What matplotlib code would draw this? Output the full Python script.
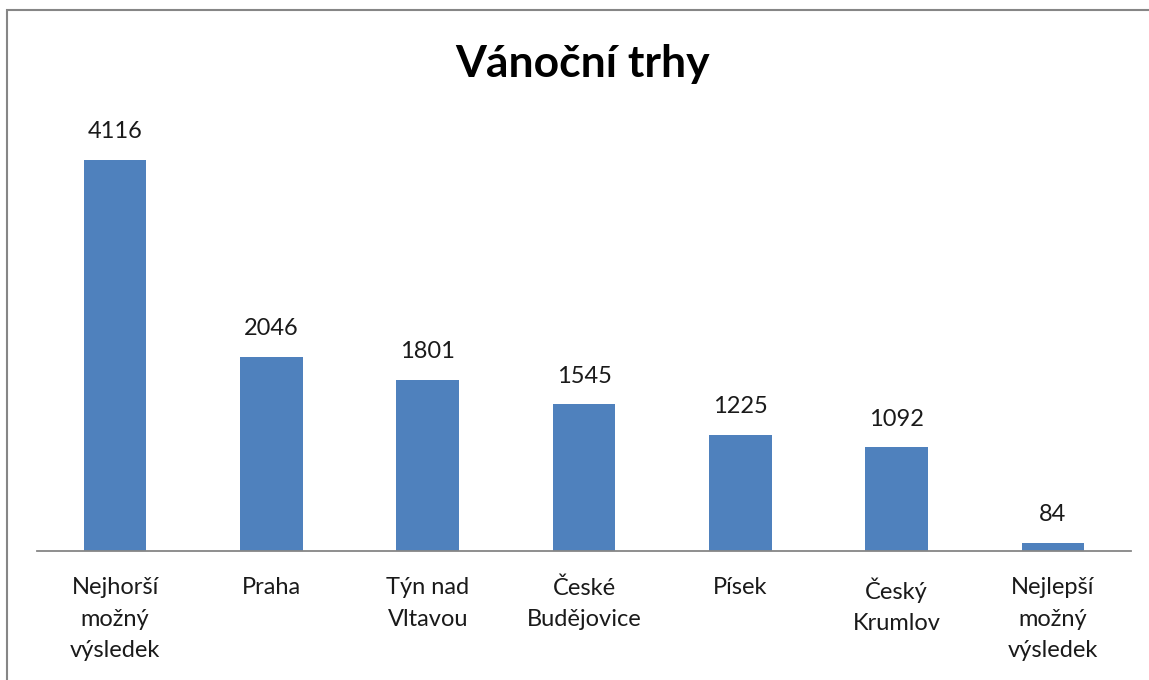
import matplotlib.pyplot as plt
from matplotlib.patches import Rectangle

categories = ["Nejhorší\nmožný\nvýsledek", "Praha", "Týn nad\nVltavou", "České\nBudějovice",
              "Písek", "Český\nKrumlov", "Nejlepší\nmožný\nvýsledek"]
values = [4116, 2046, 1801, 1545, 1225, 1092, 84]

plt.rcParams['font.family'] = ['Lato', 'DejaVu Sans']

W, H = 1149, 680
fig = plt.figure(figsize=(W / 100, H / 100), dpi=100)

# border of the chart area (cut off on right and bottom)
fig.patches.append(Rectangle((7 / W, -0.1), 1.2, (H - 10) / H + 0.1, transform=fig.transFigure,
                             fill=False, edgecolor='#868686', linewidth=1.5))

ax = fig.add_axes([37 / W, (H - 551) / H, (1131 - 37) / W, (551 - 120) / H])
x = range(len(values))
ax.bar(x, values, width=0.4, color='#4F81BD')
ax.set_xlim(-0.5, len(values) - 0.5)
ax.set_ylim(0, 431 / 0.095)

for i, v in enumerate(values):
    ax.text(i, v + 185, str(v), ha='center', va='bottom', fontsize=17, color='#1a1a1a')

for s in ['top', 'right', 'left']:
    ax.spines[s].set_visible(False)
ax.spines['bottom'].set_color('#868686')
ax.spines['bottom'].set_linewidth(1.3)
ax.set_yticks([])
ax.set_xticks(list(x))
ax.set_xticklabels(categories, fontsize=17, color='#1a1a1a', linespacing=1.62, va='top')
ax.tick_params(axis='x', length=0, pad=19)

fig.text(583 / W, 1 - 64 / H, "Vánoční trhy", ha='center', va='center',
         fontsize=32, fontweight='bold', color='black')

fig.savefig('out.png', dpi=100)
